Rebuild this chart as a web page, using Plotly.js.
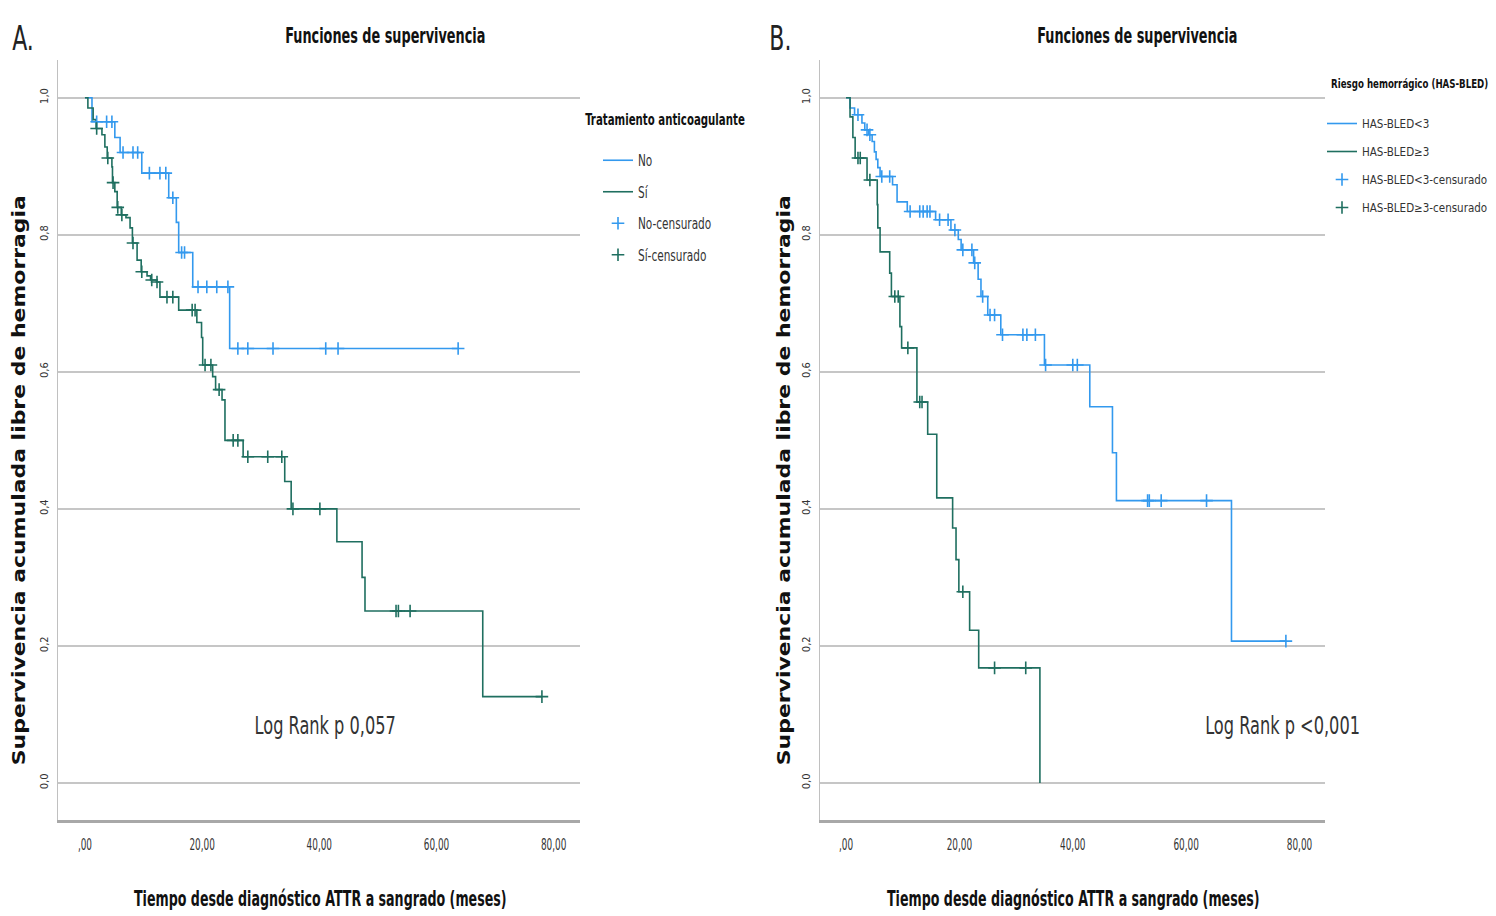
<!DOCTYPE html>
<html>
<head>
<meta charset="utf-8">
<script src="https://cdn.plot.ly/plotly-3.0.1.min.js"></script>
<style>html,body{margin:0;padding:0;background:#fff;}#chart{width:1496px;height:916px;}</style>
</head>
<body>
<div id="chart"></div>
<script>
// ---- Panel A: Tratamiento anticoagulante ----
const aNoTimes = [0, 1.2, 5.1, 6.0, 9.7, 14.3, 15.6, 16.0, 18.4, 24.7];
const aNoSurv  = [1.0, 0.965, 0.942, 0.92, 0.89, 0.854, 0.818, 0.774, 0.724, 0.634];
const aNoEnd = 63.7;
const aNoCensored = [2.0, 3.7, 4.6, 6.5, 8.2, 9.0, 11.0, 12.8, 13.8, 15.0, 16.5, 17.0, 19.3, 20.8, 22.5, 24.4, 26.1, 27.8, 32.1, 41.1, 43.2, 63.7];

const aSiTimes = [0, 0.5, 1.4, 1.9, 2.9, 3.4, 3.8, 4.6, 4.7, 5.1, 5.5, 6.2, 7.0, 7.7, 8.1, 8.9, 9.6, 10.6, 11.2, 12.2, 12.8, 16.0, 19.1, 19.9, 20.1, 21.8, 22.3, 23.4, 23.9, 27.0, 34.1, 35.2, 43.0, 47.3, 47.8, 67.9];
const aSiSurv  = [1.0, 0.985, 0.968, 0.955, 0.946, 0.928, 0.912, 0.899, 0.876, 0.863, 0.84, 0.829, 0.825, 0.81, 0.788, 0.763, 0.746, 0.74, 0.734, 0.731, 0.709, 0.69, 0.672, 0.65, 0.61, 0.593, 0.574, 0.559, 0.50, 0.476, 0.44, 0.40, 0.352, 0.30, 0.251, 0.126];
const aSiEnd = 78.0;
const aSiCensored = [2.0, 3.9, 4.8, 5.6, 6.3, 8.2, 9.7, 11.4, 12.3, 14.0, 15.0, 18.3, 18.8, 20.5, 21.5, 22.9, 25.3, 26.1, 27.8, 31.2, 33.6, 35.5, 40.1, 53.1, 53.5, 55.5, 78.0];

// ---- Panel B: Riesgo hemorrágico (HAS-BLED) ----
const bLowTimes = [0, 0.7, 1.5, 2.8, 3.3, 4.0, 4.6, 5.0, 5.3, 5.6, 6.0, 8.2, 9.0, 10.8, 15.8, 18.5, 19.8, 20.3, 22.5, 23.3, 23.8, 25.0, 27.3, 35.0, 43.0, 47.0, 47.7, 68.0];
const bLowSurv  = [1.0, 0.985, 0.975, 0.963, 0.953, 0.946, 0.936, 0.921, 0.91, 0.898, 0.885, 0.873, 0.848, 0.834, 0.822, 0.807, 0.793, 0.778, 0.759, 0.735, 0.71, 0.683, 0.654, 0.61, 0.549, 0.482, 0.412, 0.207];
const bLowEnd = 77.6;
const bLowCensored = [2.1, 3.7, 4.2, 6.3, 7.7, 11.3, 13.0, 13.6, 14.3, 14.8, 16.5, 18.0, 19.2, 20.6, 22.2, 22.7, 24.1, 25.4, 26.2, 27.6, 31.2, 31.9, 33.4, 35.2, 40.0, 40.8, 53.2, 53.5, 55.6, 63.6, 77.6];

const bHighTimes = [0, 0.7, 1.2, 1.6, 3.7, 5.5, 5.6, 6.0, 7.7, 8.0, 9.5, 9.8, 12.5, 14.4, 16.0, 18.8, 19.4, 19.9, 21.8, 23.4, 34.2];
const bHighSurv  = [1.0, 0.972, 0.942, 0.912, 0.88, 0.844, 0.81, 0.775, 0.744, 0.71, 0.666, 0.635, 0.556, 0.509, 0.416, 0.372, 0.326, 0.279, 0.223, 0.168, 0.0];
const bHighEnd = 34.2;
const bHighCensored = [2.1, 2.5, 4.2, 8.6, 9.2, 10.9, 13.0, 13.4, 20.6, 26.2, 31.7];

const yTickVals = [0, 0.2, 0.4, 0.6, 0.8, 1.0];
const yTickText = ['0,0', '0,2', '0,4', '0,6', '0,8', '1,0'];
const xTickVals = [0, 20, 40, 60, 80];
const xTickText = [',00', '20,00', '40,00', '60,00', '80,00'];

const BLUE = '#3399ee';
const GREEN = '#1f6f60';
const NARROW = '"DejaVu Sans Condensed", "DejaVu Sans", sans-serif';

function survAt(times, surv, t) {
  let v = surv[0];
  for (let i = 0; i < times.length; i++) { if (times[i] <= t) v = surv[i]; }
  return v;
}
function stepTrace(times, surv, end, color, name, xa, ya, legend) {
  return {
    x: times.concat([end]), y: surv.concat([surv[surv.length - 1]]),
    mode: 'lines', line: {shape: 'hv', color: color, width: 1.6},
    name: name, xaxis: xa, yaxis: ya, legend: legend, legendgroup: name, hoverinfo: 'skip'
  };
}
function censTrace(times, surv, cens, color, name, xa, ya, legend) {
  return {
    x: cens, y: cens.map(c => survAt(times, surv, c)),
    mode: 'markers', marker: {symbol: 'cross-thin', size: 9, line: {color: color, width: 1.6}, color: color},
    name: name, xaxis: xa, yaxis: ya, legend: legend, legendgroup: name, hoverinfo: 'skip'
  };
}

const traces = [
  stepTrace(aNoTimes, aNoSurv, aNoEnd, BLUE, 'No', 'x', 'y', 'legend'),
  stepTrace(aSiTimes, aSiSurv, aSiEnd, GREEN, 'Sí', 'x', 'y', 'legend'),
  censTrace(aNoTimes, aNoSurv, aNoCensored, BLUE, 'No-censurado', 'x', 'y', 'legend'),
  censTrace(aSiTimes, aSiSurv, aSiCensored, GREEN, 'Sí-censurado', 'x', 'y', 'legend'),
  stepTrace(bLowTimes, bLowSurv, bLowEnd, BLUE, 'HAS-BLED<3', 'x2', 'y2', 'legend2'),
  stepTrace(bHighTimes, bHighSurv, bHighEnd, GREEN, 'HAS-BLED≥3', 'x2', 'y2', 'legend2'),
  censTrace(bLowTimes, bLowSurv, bLowCensored, BLUE, 'HAS-BLED<3-censurado', 'x2', 'y2', 'legend2'),
  censTrace(bHighTimes, bHighSurv, bHighCensored, GREEN, 'HAS-BLED≥3-censurado', 'x2', 'y2', 'legend2')
];

function xAxis(domain, anchor) {
  return {
    domain: domain, anchor: anchor, range: [-4.6, 84.5],
    tickvals: xTickVals, ticktext: xTickText, ticks: '', showgrid: false, zeroline: false,
    showline: true, linecolor: '#a8a8a8', linewidth: 3, ticklabelstandoff: 9,
    tickfont: {family: NARROW, size: 15, color: '#333'}
  };
}
function yAxis(anchor) {
  return {
    domain: [0.1048, 0.9345], anchor: anchor, range: [-0.054, 1.055],
    tickvals: yTickVals, ticktext: yTickText, ticks: '', tickangle: -90,
    showgrid: true, gridcolor: '#c6c6c6', gridwidth: 2, zeroline: false,
    showline: true, linecolor: '#c0c0c0', linewidth: 1.5, ticklabelstandoff: 4,
    tickfont: {family: NARROW, size: 11, color: '#333'}
  };
}

function P(px, py) { return {x: px / 1496, y: 1 - py / 916}; }
const titleFont = {family: NARROW, size: 21, color: '#111'};
const yTitleFont = {family: 'DejaVu Sans, sans-serif', size: 18, color: '#111'};
// [text, px, py, xanchor, font, textangle, horizontal condense factor]
const annSpecs = [
  ['A.', 23, 38, 'center', {family: NARROW, size: 34, color: '#222'}, 0, 0.72],
  ['B.', 780, 38, 'center', {family: NARROW, size: 34, color: '#222'}, 0, 0.72],
  ['<b>Funciones de supervivencia</b>', 386, 36, 'center', titleFont, 0, 0.68],
  ['<b>Funciones de supervivencia</b>', 1137, 36, 'center', titleFont, 0, 0.68],
  ['<b>Tiempo desde diagnóstico ATTR a sangrado (meses)</b>', 320, 899, 'center', titleFont, 0, 0.67],
  ['<b>Tiempo desde diagnóstico ATTR a sangrado (meses)</b>', 1073, 899, 'center', titleFont, 0, 0.67],
  ['<b>Supervivencia acumulada libre de hemorragia</b>', 18, 480, 'center', yTitleFont, -90, 1.22],
  ['<b>Supervivencia acumulada libre de hemorragia</b>', 783, 480, 'center', yTitleFont, -90, 1.22],
  ['Log Rank p 0,057', 325, 725, 'center', {family: NARROW, size: 25, color: '#333'}, 0, 0.72],
  ['Log Rank p <0,001', 1282, 725, 'center', {family: NARROW, size: 25, color: '#333'}, 0, 0.72],
  ['<b>Tratamiento anticoagulante</b>', 583, 120, 'left', {family: NARROW, size: 16, color: '#111'}, 0, 0.71],
  ['<b>Riesgo hemorrágico (HAS-BLED)</b>', 1329, 83, 'left', {family: NARROW, size: 13, color: '#111'}, 0, 0.74]
];
const annotations = annSpecs.map(s => Object.assign(P(s[1], s[2]), {
  text: s[0], xref: 'paper', yref: 'paper', xanchor: s[3], yanchor: 'middle',
  showarrow: false, font: s[4], textangle: s[5]
}));

const layout = {
  width: 1496, height: 916, paper_bgcolor: '#fff', plot_bgcolor: '#fff',
  margin: {l: 0, r: 0, t: 0, b: 0},
  xaxis: xAxis([58/1496, 580/1496], 'y'),
  yaxis: yAxis('x'),
  xaxis2: xAxis([820/1496, 1325/1496], 'y2'),
  yaxis2: yAxis('x2'),
  legend: {x: 598/1496, y: 1 - 144/916, xanchor: 'left', yanchor: 'top', bgcolor: 'rgba(0,0,0,0)',
    itemwidth: 30, tracegroupgap: 9, traceorder: 'grouped', font: {family: NARROW, size: 15, color: '#333'}},
  legend2: {x: 1322/1496, y: 1 - 109/916, xanchor: 'left', yanchor: 'top', bgcolor: 'rgba(0,0,0,0)',
    itemwidth: 30, tracegroupgap: 9, traceorder: 'grouped', font: {family: NARROW, size: 11.5, color: '#333'}},
  showlegend: true,
  annotations: annotations
};

Plotly.newPlot('chart', traces, layout, {displayModeBar: false, staticPlot: true}).then(gd => {
  // condensed look of the original (narrow typeface)
  annSpecs.forEach((s, i) => {
    const t = gd.querySelector('g.annotation[data-index="' + i + '"] text.annotation-text');
    if (t && s[6] !== 1) {
      t.style.transformBox = 'fill-box';
      t.style.transformOrigin = s[3] === 'left' ? 'left center' : 'center';
      t.style.transform = 'scaleX(' + s[6] + ')';
    }
  });
  gd.querySelectorAll('g.legend text.legendtext').forEach(t => {
    t.style.transformBox = 'fill-box';
    t.style.transformOrigin = 'left center';
    t.style.transform = 'scaleX(0.78)';
  });
  gd.querySelectorAll('g.xtick text, g.x2tick text').forEach(t => {
    const tr = t.getAttribute('transform') || '';
    const x = parseFloat(t.getAttribute('x') || '0') || 0;
    t.setAttribute('transform', tr + ' translate(' + x + ',0) scale(0.66,1) translate(' + (-x) + ',0)');
  });
});
</script>
</body>
</html>
